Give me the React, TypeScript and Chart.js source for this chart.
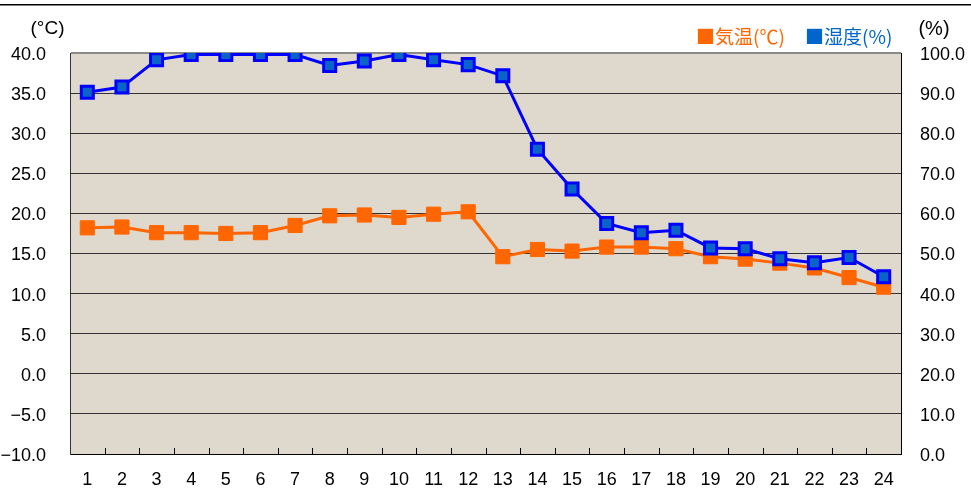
import React, { useEffect, useRef } from "react";
import { Chart, registerables } from "chart.js";

Chart.register(...registerables);

const hours = ["1", "2", "3", "4", "5", "6", "7", "8", "9", "10", "11", "12", "13", "14", "15", "16", "17", "18", "19", "20", "21", "22", "23", "24"];
const temperature = [18.2, 18.3, 17.6, 17.6, 17.5, 17.6, 18.5, 19.7, 19.8, 19.5, 19.9, 20.2, 14.6, 15.5, 15.3, 15.8, 15.8, 15.6, 14.6, 14.3, 13.8, 13.2, 12.0, 10.8];
const humidity = [90.2, 91.5, 98.3, 99.6, 99.6, 99.6, 99.6, 96.9, 98.0, 99.6, 98.3, 97.1, 94.3, 76.0, 66.1, 57.5, 55.2, 55.8, 51.4, 51.2, 48.7, 47.7, 49.0, 44.2];
const tempLegend = "■気温(℃)";
const humLegend = "■湿度(%)";
const tempUnit = "(°C)";
const humUnit = "(%)";

const ORANGE = "#FF6600";
const BLUE_LINE = "#0000FF";
const BLUE_FILL = "#0A64C8";
const BG = "#DFD8CC";
const TICK_FONT = { family: "'Liberation Sans', Arial, sans-serif", size: 18 };

const fmt = (v: number) => (v < 0 ? "\u2212" + Math.abs(v).toFixed(1) : v.toFixed(1));

const decor = {
  id: "decor",
  beforeDraw(chart: any) {
    const { ctx, chartArea: a } = chart;
    ctx.save();
    ctx.fillStyle = "#ffffff";
    ctx.fillRect(0, 0, chart.width, chart.height);
    ctx.fillStyle = BG;
    ctx.fillRect(a.left, a.top, a.right - a.left, a.bottom - a.top);
    ctx.restore();
  },
  beforeDatasetsDraw(chart: any) {
    const { ctx, chartArea: a } = chart;
    const xs = chart.scales.x;
    ctx.save();
    ctx.strokeStyle = "#000";
    ctx.lineWidth = 1;
    ctx.beginPath();
    for (let i = 0; i < hours.length - 1; i++) {
      const x = Math.round(xs.getPixelForValue(i + 0.5)) + 0.5;
      ctx.moveTo(x, a.bottom);
      ctx.lineTo(x, a.bottom - 6);
    }
    ctx.stroke();
    ctx.restore();
  },
  afterDraw(chart: any) {
    const { ctx } = chart;
    ctx.save();
    ctx.fillStyle = "#000";
    ctx.fillRect(0, 4, chart.width, 1.5);
    ctx.textBaseline = "middle";
    ctx.font = "19px 'Noto Sans CJK JP'";
    ctx.textAlign = "left";
    ctx.fillStyle = ORANGE;
    ctx.fillText(tempLegend, 696, 37);
    ctx.fillStyle = "#0066CC";
    ctx.fillText(humLegend, 805, 37);
    ctx.fillStyle = "#000";
    ctx.font = "19px 'Liberation Sans', Arial, sans-serif";
    ctx.textAlign = "center";
    ctx.fillText(tempUnit, 47.5, 29);
    ctx.font = "20px 'Liberation Sans', Arial, sans-serif";
    ctx.fillText(humUnit, 934, 29);
    ctx.restore();
  },
};

export default function App() {
  const ref = useRef<HTMLCanvasElement | null>(null);
  useEffect(() => {
    if (!ref.current) return;
    const chart = new Chart(ref.current, {
      type: "line",
      data: {
        labels: hours,
        datasets: [
          {
            label: "湿度(%)",
            data: humidity,
            yAxisID: "y1",
            borderColor: BLUE_LINE,
            borderWidth: 3,
            backgroundColor: BLUE_FILL,
            pointStyle: "rect",
            pointRadius: 8.5,
            pointBorderWidth: 3,
            pointBorderColor: BLUE_LINE,
            pointBackgroundColor: BLUE_FILL,
            tension: 0,
            order: 1,
          },
          {
            label: "気温(℃)",
            data: temperature,
            yAxisID: "y",
            borderColor: ORANGE,
            borderWidth: 3,
            backgroundColor: ORANGE,
            pointStyle: "rect",
            pointRadius: 10,
            pointBorderWidth: 1,
            pointBorderColor: ORANGE,
            pointBackgroundColor: ORANGE,
            tension: 0,
            order: 2,
          },
        ],
      },
      options: {
        responsive: false,
        animation: false,
        devicePixelRatio: 1,
        layout: { padding: { top: 53, left: 0, right: 0, bottom: 0 } },
        plugins: { legend: { display: false }, tooltip: { enabled: false } },
        scales: {
          x: {
            type: "category",
            offset: true,
            grid: { display: false, drawTicks: false },
            border: { display: true, color: "#000", width: 1 },
            ticks: { color: "#000", font: TICK_FONT, padding: 15, maxRotation: 0, autoSkip: false },
            afterFit: (s: any) => { s.height = 37; },
          },
          y: {
            position: "left",
            min: -10,
            max: 40,
            ticks: { stepSize: 5, color: "#000", font: TICK_FONT, padding: 24, labelOffset: 2, callback: (v: any) => fmt(Number(v)) },
            grid: {
              drawTicks: false,
              color: (c: any) => (c.tick && c.tick.value === 40 ? "#8a8a8a" : "#333333"),
              lineWidth: (c: any) => (c.tick && c.tick.value === 40 ? 2 : 1),
            },
            border: { display: true, color: "#333", width: 1 },
            afterFit: (s: any) => { s.width = 70; },
          },
          y1: {
            position: "right",
            min: 0,
            max: 100,
            ticks: { stepSize: 10, color: "#000", font: TICK_FONT, padding: 19, labelOffset: 2, callback: (v: any) => fmt(Number(v)) },
            grid: { drawOnChartArea: false, drawTicks: false },
            border: { display: true, color: "#000", width: 1 },
            afterFit: (s: any) => { s.width = 70; },
          },
        },
      },
      plugins: [decor],
    });
    return () => chart.destroy();
  }, []);
  return (
    <div style={{ position: "absolute", left: 0, top: 0, width: 971, height: 491 }}>
      <canvas ref={ref} width={971} height={491} style={{ width: 971, height: 491, display: "block" }} />
    </div>
  );
}
